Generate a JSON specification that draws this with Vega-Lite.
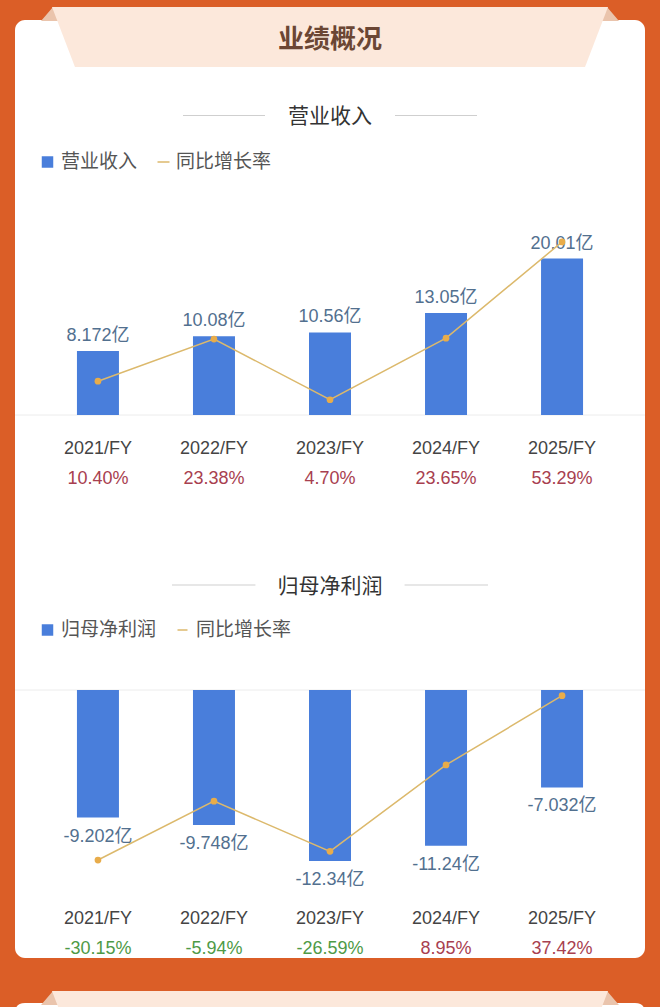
{
  "$schema": "https://vega.github.io/schema/vega-lite/v6.json",
  "width": 630,
  "height": 938,
  "autosize": {"type": "none"},
  "padding": {"left": 15, "top": 20, "right": 15, "bottom": 49},
  "background": "#DB5E27",
  "config": {
    "view": {"fill": "#FFFFFF", "stroke": null, "cornerRadius": 10},
    "text": {"font": "Liberation Sans, Noto Sans CJK SC"}
  },
  "datasets": {
    "fy": [
      {"year": "2021/FY", "revenue": 8.172, "revenueGrowth": 10.40, "profit": -9.202, "profitGrowth": -30.15},
      {"year": "2022/FY", "revenue": 10.08, "revenueGrowth": 23.38, "profit": -9.748, "profitGrowth": -5.94},
      {"year": "2023/FY", "revenue": 10.56, "revenueGrowth": 4.70, "profit": -12.34, "profitGrowth": -26.59},
      {"year": "2024/FY", "revenue": 13.05, "revenueGrowth": 23.65, "profit": -11.24, "profitGrowth": 8.95},
      {"year": "2025/FY", "revenue": 20.01, "revenueGrowth": 53.29, "profit": -7.032, "profitGrowth": 37.42}
    ]
  },
  "data": {"name": "fy"},
  "layer": [
    {
      "data": {"values": [{"section": "业绩概况"}]},
      "mark": {"type": "point", "shape": "M-1.0248,-0.0567L-0.9823,-0.1064L-0.9574,-0.0567ZM1.0248,-0.0567L0.9823,-0.1064L0.9574,-0.0567Z", "size": 318096, "filled": true, "color": "#EAC4AC", "opacity": 1, "strokeWidth": 0},
      "encoding": {
        "x": {"value": {"expr": "width/2"}},
        "y": {"datum": 48.338, "type": "quantitative", "axis": null, "scale": {"domain": [-69.437, 50.512], "zero": false, "nice": false}}
      }
    },
    {
      "data": {"values": [{"section": "业绩概况"}]},
      "mark": {"type": "point", "shape": "M-0.9858,-0.1064L0.9858,-0.1064L0.9043,0.1064L-0.9043,0.1064Z", "size": 318096, "filled": true, "color": "#FCE8DB", "opacity": 1, "strokeWidth": 0},
      "encoding": {
        "x": {"value": {"expr": "width/2"}},
        "y": {"datum": 48.338, "type": "quantitative", "axis": null, "scale": {"domain": [-69.437, 50.512], "zero": false, "nice": false}}
      }
    },
    {
      "data": {"values": [{"section": "业绩概况"}]},
      "mark": {"type": "text", "font": "Noto Sans CJK SC", "fontSize": 26, "fontWeight": "bold", "color": "#6B4634", "baseline": "middle", "align": "center"},
      "encoding": {
        "x": {"value": {"expr": "width/2"}},
        "y": {"datum": 47.954, "type": "quantitative", "axis": null, "scale": {"domain": [-69.437, 50.512], "zero": false, "nice": false}},
        "text": {"field": "section"}
      }
    },
    {
      "data": {"values": [{"section": "营业收入"}]},
      "mark": {"type": "point", "shape": "M-1,0L-0.4422,0M0.4422,0L1,0", "size": 86436, "filled": false, "stroke": "#CFCFCF", "strokeWidth": 1, "opacity": 1},
      "encoding": {
        "x": {"value": {"expr": "width/2"}},
        "y": {"datum": 38.299, "type": "quantitative", "axis": null, "scale": {"domain": [-69.437, 50.512], "zero": false, "nice": false}}
      }
    },
    {
      "data": {"values": [{"section": "营业收入"}]},
      "mark": {"type": "text", "font": "Noto Sans CJK SC", "fontSize": 21, "color": "#333333", "baseline": "middle", "align": "center"},
      "encoding": {
        "x": {"value": {"expr": "width/2"}},
        "y": {"datum": 38.107, "type": "quantitative", "axis": null, "scale": {"domain": [-69.437, 50.512], "zero": false, "nice": false}},
        "text": {"field": "section"}
      }
    },
    {
      "data": {"values": [{"baseline": 0}]},
      "mark": {"type": "rule", "color": "#ECECEC", "strokeWidth": 1},
      "encoding": {
        "y": {"field": "baseline", "type": "quantitative", "axis": null, "scale": {"domain": [-69.437, 50.512], "zero": false, "nice": false}}
      }
    },
    {
      "mark": {"type": "bar"},
      "encoding": {
        "x": {"field": "year", "type": "nominal", "axis": null, "scale": {"type": "band", "paddingInner": 0.638, "paddingOuter": 0.534}},
        "y": {"field": "revenue", "type": "quantitative", "axis": null, "scale": {"domain": [-69.437, 50.512], "zero": false, "nice": false}},
        "fill": {
          "datum": "营业收入", "type": "nominal",
          "scale": {"range": ["#497EDB"]},
          "legend": {"title": null, "orient": "none", "legendX": 23, "legendY": 132.5, "padding": 0, "symbolType": "square", "symbolSize": 132, "symbolStrokeWidth": 0, "labelFont": "Noto Sans CJK SC", "labelFontSize": 19, "labelColor": "#555555", "labelOffset": 4}
        }
      }
    },
    {
      "mark": {"type": "text", "fontSize": 18, "color": "#52708F", "baseline": "middle", "align": "center", "dy": -15},
      "encoding": {
        "x": {"field": "year", "type": "nominal", "axis": null},
        "y": {"field": "revenue", "type": "quantitative", "axis": null, "scale": {"domain": [-69.437, 50.512], "zero": false, "nice": false}},
        "text": {"value": {"expr": "datum.revenue + '亿'"}}
      }
    },
    {
      "mark": {"type": "text", "fontSize": 18, "color": "#444444", "baseline": "middle", "align": "center", "dy": 34},
      "encoding": {
        "x": {"field": "year", "type": "nominal", "axis": null},
        "y": {"datum": 0, "type": "quantitative", "axis": null, "scale": {"domain": [-69.437, 50.512], "zero": false, "nice": false}},
        "text": {"field": "year"}
      }
    },
    {
      "mark": {"type": "text", "fontSize": 18, "baseline": "middle", "align": "center", "dy": 64},
      "encoding": {
        "x": {"field": "year", "type": "nominal", "axis": null},
        "y": {"datum": 0, "type": "quantitative", "axis": null, "scale": {"domain": [-69.437, 50.512], "zero": false, "nice": false}},
        "text": {"value": {"expr": "(datum.revenueGrowth < 0 ? '-' : '') + format(abs(datum.revenueGrowth), '.2f') + '%'"}},
        "color": {"condition": {"test": "datum.revenueGrowth < 0", "value": "#4E9A46"}, "value": "#A8404F"}
      }
    },
    {
      "mark": {"type": "line", "strokeWidth": 1.5},
      "encoding": {
        "x": {"field": "year", "type": "nominal", "axis": null},
        "y": {"field": "revenueGrowth", "type": "quantitative", "axis": null, "scale": {"domain": [-167.18, 121.613], "zero": false, "nice": false}},
        "stroke": {
          "datum": "同比增长率", "type": "nominal",
          "scale": {"range": ["#DCB96C"]},
          "legend": {"title": null, "orient": "none", "legendX": 139, "legendY": 132.5, "padding": 0, "symbolType": "stroke", "symbolSize": 144, "symbolStrokeWidth": 1.5, "labelFont": "Noto Sans CJK SC", "labelFontSize": 19, "labelColor": "#555555", "labelOffset": 3}
        }
      }
    },
    {
      "mark": {"type": "point", "filled": true, "color": "#E8AC4A", "size": 45, "opacity": 1},
      "encoding": {
        "x": {"field": "year", "type": "nominal", "axis": null},
        "y": {"field": "revenueGrowth", "type": "quantitative", "axis": null, "scale": {"domain": [-167.18, 121.613], "zero": false, "nice": false}}
      }
    },
    {
      "data": {"values": [{"section": "归母净利润"}]},
      "mark": {"type": "point", "shape": "M-1,0L-0.472,0M0.472,0L1,0", "size": 99856, "filled": false, "stroke": "#CFCFCF", "strokeWidth": 1, "opacity": 1},
      "encoding": {
        "x": {"value": {"expr": "width/2"}},
        "y": {"datum": 7.576, "type": "quantitative", "axis": null, "scale": {"domain": [-19.336, 48.341], "zero": false, "nice": false}}
      }
    },
    {
      "data": {"values": [{"section": "归母净利润"}]},
      "mark": {"type": "text", "font": "Noto Sans CJK SC", "fontSize": 21, "color": "#333333", "baseline": "middle", "align": "center"},
      "encoding": {
        "x": {"value": {"expr": "width/2"}},
        "y": {"datum": 7.43, "type": "quantitative", "axis": null, "scale": {"domain": [-19.336, 48.341], "zero": false, "nice": false}},
        "text": {"field": "section"}
      }
    },
    {
      "data": {"values": [{"baseline": 0}]},
      "mark": {"type": "rule", "color": "#ECECEC", "strokeWidth": 1},
      "encoding": {
        "y": {"field": "baseline", "type": "quantitative", "axis": null, "scale": {"domain": [-19.336, 48.341], "zero": false, "nice": false}}
      }
    },
    {
      "mark": {"type": "bar"},
      "encoding": {
        "x": {"field": "year", "type": "nominal", "axis": null},
        "y": {"field": "profit", "type": "quantitative", "axis": null, "scale": {"domain": [-19.336, 48.341], "zero": false, "nice": false}},
        "fill": {
          "datum": "归母净利润", "type": "nominal",
          "scale": {"range": ["#497EDB"]},
          "legend": {"title": null, "orient": "none", "legendX": 23, "legendY": 600.5, "padding": 0, "symbolType": "square", "symbolSize": 132, "symbolStrokeWidth": 0, "labelFont": "Noto Sans CJK SC", "labelFontSize": 19, "labelColor": "#555555", "labelOffset": 4}
        }
      }
    },
    {
      "mark": {"type": "text", "fontSize": 18, "color": "#52708F", "baseline": "middle", "align": "center", "dy": 19},
      "encoding": {
        "x": {"field": "year", "type": "nominal", "axis": null},
        "y": {"field": "profit", "type": "quantitative", "axis": null, "scale": {"domain": [-19.336, 48.341], "zero": false, "nice": false}},
        "text": {"value": {"expr": "datum.profit + '亿'"}}
      }
    },
    {
      "mark": {"type": "text", "fontSize": 18, "color": "#444444", "baseline": "middle", "align": "center", "dy": 229},
      "encoding": {
        "x": {"field": "year", "type": "nominal", "axis": null},
        "y": {"datum": 0, "type": "quantitative", "axis": null, "scale": {"domain": [-19.336, 48.341], "zero": false, "nice": false}},
        "text": {"field": "year"}
      }
    },
    {
      "mark": {"type": "text", "fontSize": 18, "baseline": "middle", "align": "center", "dy": 259},
      "encoding": {
        "x": {"field": "year", "type": "nominal", "axis": null},
        "y": {"datum": 0, "type": "quantitative", "axis": null, "scale": {"domain": [-19.336, 48.341], "zero": false, "nice": false}},
        "text": {"value": {"expr": "(datum.profitGrowth < 0 ? '-' : '') + format(abs(datum.profitGrowth), '.2f') + '%'"}},
        "color": {"condition": {"test": "datum.profitGrowth < 0", "value": "#4E9A46"}, "value": "#A8404F"}
      }
    },
    {
      "mark": {"type": "line", "strokeWidth": 1.5},
      "encoding": {
        "x": {"field": "year", "type": "nominal", "axis": null},
        "y": {"field": "profitGrowth", "type": "quantitative", "axis": null, "scale": {"domain": [-70.436, 315.255], "zero": false, "nice": false}},
        "stroke": {
          "datum": "同比增长率", "type": "nominal",
          "scale": {"range": ["#DCB96C"]},
          "legend": {"title": null, "orient": "none", "legendX": 158, "legendY": 600.5, "padding": 0, "symbolType": "stroke", "symbolSize": 100, "symbolStrokeWidth": 1.5, "labelFont": "Noto Sans CJK SC", "labelFontSize": 19, "labelColor": "#555555", "labelOffset": 4}
        }
      }
    },
    {
      "mark": {"type": "point", "filled": true, "color": "#E8AC4A", "size": 45, "opacity": 1},
      "encoding": {
        "x": {"field": "year", "type": "nominal", "axis": null},
        "y": {"field": "profitGrowth", "type": "quantitative", "axis": null, "scale": {"domain": [-70.436, 315.255], "zero": false, "nice": false}}
      }
    },
    {
      "data": {"values": [{"section": "next"}]},
      "mark": {"type": "point", "shape": "M-1,0.1238L-1,-0.0254Q-1,-0.0571,-0.9683,-0.0571L0.9683,-0.0571Q1,-0.0571,1,-0.0254L1,0.1238Z", "size": 396900, "filled": true, "color": "#FFFFFF", "opacity": 1, "strokeWidth": 0},
      "encoding": {
        "x": {"value": {"expr": "width/2"}},
        "y": {"datum": -23.882, "type": "quantitative", "axis": null, "scale": {"domain": [-19.336, 48.341], "zero": false, "nice": false}}
      }
    },
    {
      "data": {"values": [{"section": "next"}]},
      "mark": {"type": "point", "shape": "M-1.0248,-0.0567L-0.9823,-0.1064L-0.9574,-0.0567ZM1.0248,-0.0567L0.9823,-0.1064L0.9574,-0.0567Z", "size": 318096, "filled": true, "color": "#EAC4AC", "opacity": 1, "strokeWidth": 0},
      "encoding": {
        "x": {"value": {"expr": "width/2"}},
        "y": {"datum": -23.882, "type": "quantitative", "axis": null, "scale": {"domain": [-19.336, 48.341], "zero": false, "nice": false}}
      }
    },
    {
      "data": {"values": [{"section": "next"}]},
      "mark": {"type": "point", "shape": "M-0.9858,-0.1064L0.9858,-0.1064L0.9043,0.1064L-0.9043,0.1064Z", "size": 318096, "filled": true, "color": "#FCE8DB", "opacity": 1, "strokeWidth": 0},
      "encoding": {
        "x": {"value": {"expr": "width/2"}},
        "y": {"datum": -23.882, "type": "quantitative", "axis": null, "scale": {"domain": [-19.336, 48.341], "zero": false, "nice": false}}
      }
    }
  ],
  "resolve": {"scale": {"y": "independent", "fill": "independent", "stroke": "independent"}}
}
